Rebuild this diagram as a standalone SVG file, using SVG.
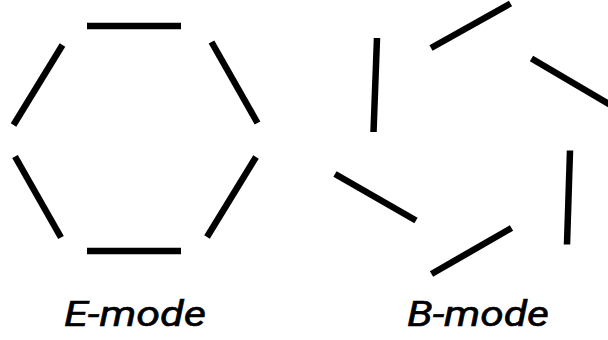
<svg xmlns="http://www.w3.org/2000/svg" width="608" height="340" viewBox="0 0 608 340">
<style>
.bar{stroke:#000;stroke-width:6.5;stroke-linecap:butt;fill:none}
.lbl{font-family:Roboto,"Liberation Sans",Arial,sans-serif;font-style:italic;font-weight:400;font-size:35px;fill:#000;stroke:#000;stroke-width:0.6;text-anchor:middle}
</style>
<rect width="608" height="340" fill="#fff"/>
<g id="e-mode">
<line class="bar" x1="87" y1="26" x2="181" y2="26"/>
<line class="bar" x1="87" y1="251" x2="181" y2="251"/>
<line class="bar" x1="62.5" y1="45" x2="13.5" y2="125"/>
<line class="bar" x1="15" y1="156.5" x2="61" y2="237.5"/>
<line class="bar" x1="211.5" y1="42" x2="257.5" y2="123"/>
<line class="bar" x1="256" y1="157" x2="207" y2="237"/>
</g>
<g id="b-mode">
<line class="bar" x1="377" y1="38" x2="373.5" y2="132"/>
<line class="bar" x1="431" y1="48" x2="510.5" y2="3.5"/>
<line class="bar" x1="531.5" y1="58.5" x2="613" y2="106.5"/>
<line class="bar" x1="570" y1="150.5" x2="567" y2="244.5"/>
<line class="bar" x1="511.5" y1="228" x2="431.5" y2="274"/>
<line class="bar" x1="335" y1="174" x2="416" y2="220.5"/>
</g>
<g id="labels">
<text class="lbl" x="135" y="326" textLength="142" lengthAdjust="spacingAndGlyphs">E-mode</text>
<text class="lbl" x="478" y="326" textLength="142" lengthAdjust="spacingAndGlyphs">B-mode</text>
</g>
</svg>
